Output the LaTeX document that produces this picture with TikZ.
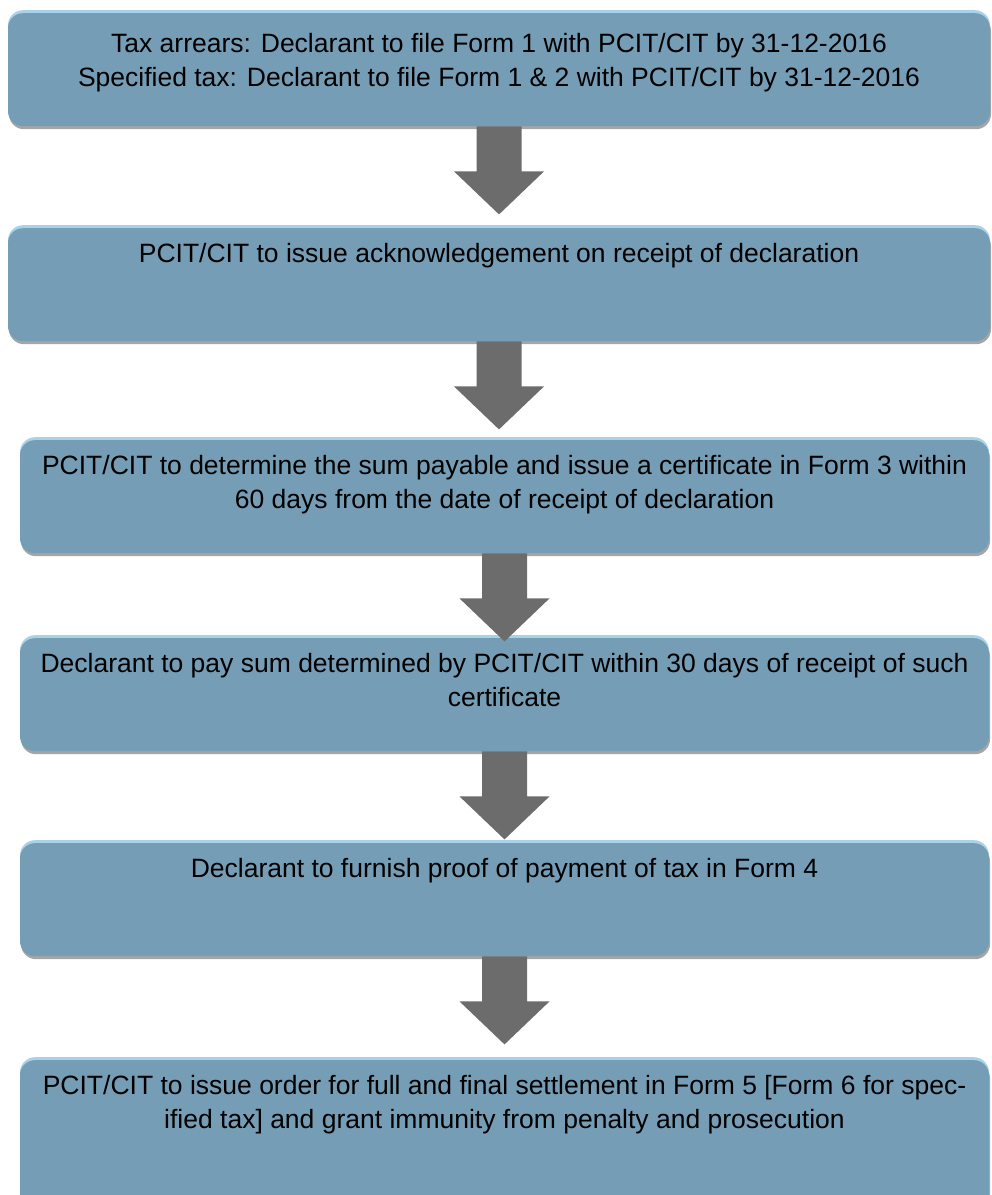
\documentclass[tikz,border=0pt]{standalone}
\usepackage{fontspec}
\setmainfont{Liberation Sans}
\usetikzlibrary{calc}

\definecolor{boxblue}{HTML}{759DB5}
\definecolor{topblue}{HTML}{A8D1EA}
\definecolor{shadowgray}{HTML}{A5A5A5}
\definecolor{arrowgray}{HTML}{6B6C6B}

\newcommand{\steptext}[3][91pt]{\parbox[t][#1][t]{#2}{\centering\strut #3}}

\begin{document}
\begin{tikzpicture}[x=1pt, y=-1pt,
  font=\fontsize{26.5}{33.5}\selectfont,
  stepbox/.style={rounded corners=15pt, fill=boxblue, anchor=north,
    inner xsep=4pt, inner ysep=11pt, minimum height=113pt,
    preaction={fill=shadowgray, transform canvas={xshift=1pt, yshift=-3pt}},
    preaction={fill=topblue, transform canvas={yshift=3pt}}},
  blockarrow/.style={fill=arrowgray}]

\useasboundingbox (0,0) rectangle (992,1195);
\clip (0,0) rectangle (992,1195);

\node[stepbox, minimum width=982pt, inner ysep=16pt] (b1) at (499,13)
  {\steptext[81pt]{974pt}{Tax arrears: Declarant to file Form 1 with PCIT/CIT by 31-12-2016\\
   Specified tax: Declarant to file Form 1 \& 2 with PCIT/CIT by 31-12-2016}};
\node[stepbox, minimum width=982pt] (b2) at (499,228)
  {\steptext{974pt}{PCIT/CIT to issue acknowledgement on receipt of declaration}};
\node[stepbox, minimum width=969pt] (b3) at (504.5,440)
  {\steptext{961pt}{PCIT/CIT to determine the sum payable and issue a certificate in Form 3 within\\
   60 days from the date of receipt of declaration}};
\node[stepbox, minimum width=969pt] (b4) at (504.5,638)
  {\steptext{961pt}{Declarant to pay sum determined by PCIT/CIT within 30 days of receipt of such\\
   certificate}};
\node[stepbox, minimum width=969pt] (b5) at (504.5,843)
  {\steptext{961pt}{Declarant to furnish proof of payment of tax in Form 4}};
\node[stepbox, minimum width=969pt] (b6) at (504.5,1060)
  {\steptext[140pt]{961pt}{PCIT/CIT to issue order for full and final settlement in Form 5 [Form 6 for spec-\\
   ified tax] and grant immunity from penalty and prosecution}};

% block arrows between the steps
\foreach \n in {1,...,5}
  \fill[blockarrow] ($(b\n.south)+(-22.5,0)$) -- ++(0,45) -- ++(-22.5,0)
    -- ++(45,43) -- ++(45,-43) -- ++(-22.5,0) -- ++(0,-45) -- cycle;

\end{tikzpicture}
\end{document}
